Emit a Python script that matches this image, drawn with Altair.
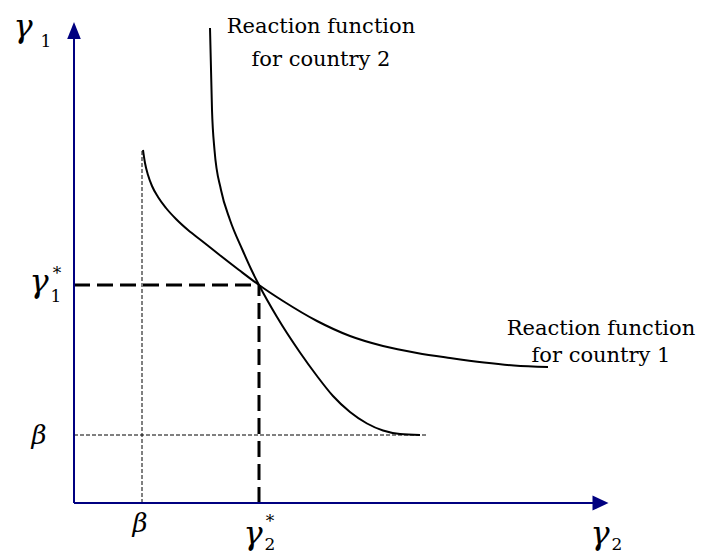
import altair as alt
import pandas as pd

# Canvas and origin of the diagram
W, H = 702, 554
X0, Y0 = 74, 503

# Axis extents (arbitrary units)
G2_MAX = 534
G1_MAX = 481
ARROW_G1 = 472.5
ARROW_G2 = 526.5

# Floor level and Nash equilibrium
BETA = 68
EQ_G2, EQ_G1 = 185, 218

# Reaction function for country 1
rf1_g2 = [69, 71, 74, 78, 84, 92, 102, 114, 128, 145, 165, 185, 209, 243, 276, 309, 343, 376, 410, 440, 474]
rf1_g1 = [353, 340, 328, 317, 306, 295, 284, 273, 262, 248.5, 233, 218, 202, 182, 167, 157, 150, 145, 140.5, 137.5, 136]

# Reaction function for country 2
rf2_g2 = [136, 138, 140.5, 147, 156, 168.5, 177.5, 185, 203, 226, 243, 259, 276, 293, 309, 326, 346]
rf2_g1 = [475, 393, 353, 313, 283, 253, 233, 218, 186, 150.5, 127, 107, 91, 79.5, 72.5, 69, 68]

xs = alt.Scale(domain=[-X0, W - X0], nice=False, zero=False)
ys = alt.Scale(domain=[Y0 - H, Y0], nice=False, zero=False)
NAVY = "#000080"
FONT = "DejaVu Serif"


def enc_xy(chart, xf="x", yf="y"):
    return chart.encode(
        x=alt.X(f"{xf}:Q", scale=xs, axis=None),
        y=alt.Y(f"{yf}:Q", scale=ys, axis=None),
    )


def seg(df, **style):
    return enc_xy(alt.Chart(df).mark_rule(**style)).encode(x2="x2:Q", y2="y2:Q")


axes_df = pd.DataFrame({
    "x": [0, 0], "y": [0, 0], "x2": [0, G2_MAX - 10], "y2": [G1_MAX - 10, 0],
})
axes = seg(axes_df, color=NAVY, strokeWidth=2)

arrow_up = enc_xy(alt.Chart(pd.DataFrame({"x": [0], "y": [ARROW_G1]})).mark_point(
    shape="M0,-1L0.8,1L-0.8,1Z", size=289, filled=True, color=NAVY, opacity=1
))
arrow_right = enc_xy(alt.Chart(pd.DataFrame({"x": [ARROW_G2], "y": [0]})).mark_point(
    shape="M1,0L-1,-0.95L-1,0.95Z", size=256, filled=True, color=NAVY, opacity=1
))

# Thin dotted guides at the floor beta
beta_df = pd.DataFrame({
    "x": [BETA, 0], "y": [0, BETA], "x2": [BETA, rf2_g2[-1] + 7], "y2": [rf1_g1[0], BETA],
})
beta_lines = seg(beta_df, color="black", strokeWidth=1, strokeDash=[4, 2])

# Thick dashed guides to the equilibrium
eq_df = pd.DataFrame({
    "x": [0, EQ_G2], "y": [EQ_G1, 0], "x2": [EQ_G2, EQ_G2], "y2": [EQ_G1, EQ_G1],
})
eq_lines = seg(eq_df, color="black", strokeWidth=3, strokeDash=[16, 7])

curves_df = pd.concat([
    pd.DataFrame({"g2": rf1_g2, "g1": rf1_g1, "curve": "rf1", "i": range(len(rf1_g2))}),
    pd.DataFrame({"g2": rf2_g2, "g1": rf2_g1, "curve": "rf2", "i": range(len(rf2_g2))}),
])
curves = enc_xy(
    alt.Chart(curves_df).mark_line(color="black", strokeWidth=2, interpolate="monotone"),
    "g2", "g1",
).encode(detail="curve:N", order="i:Q")

# Curve captions
caption_df = pd.DataFrame({
    "x": [247, 247, 527, 527],
    "y": [470, 437, 168, 141],
    "text": ["Reaction function", "for country 2", "Reaction function", "for country 1"],
})
captions = enc_xy(alt.Chart(caption_df).mark_text(
    font=FONT, fontSize=21, align="center", baseline="alphabetic", color="black"
)).encode(text="text:N")

# Greek symbols (italic)
greek_df = pd.DataFrame({
    "x": [-51, -35, EQ_G2 - 6, 526, BETA - 2, -35],
    "y": [466, 211, -41, -41, -29, 59],
    "text": ["γ", "γ", "γ", "γ", "β", "β"],
    "size": [32, 32, 32, 32, 26, 26],
})
greek = enc_xy(alt.Chart(greek_df).mark_text(
    font=FONT, fontStyle="italic", align="center", baseline="alphabetic", color="black"
)).encode(text="text:N", size=alt.Size("size:Q", scale=None, legend=None))

# Subscripts and stars
sub_df = pd.DataFrame({
    "x": [-28, -18, EQ_G2 + 11, 543, -17, EQ_G2 + 11],
    "y": [456, 201, -47, -47, 224, -24],
    "text": ["1", "1", "2", "2", "*", "*"],
})
subs = enc_xy(alt.Chart(sub_df).mark_text(
    font=FONT, fontSize=17, align="center", baseline="alphabetic", color="black"
)).encode(text="text:N")

chart = alt.layer(
    beta_lines, eq_lines, curves, axes, arrow_up, arrow_right,
    captions, greek, subs,
).properties(
    width=W, height=H, padding=0, autosize="none", background="white"
).configure_view(stroke=None)

chart.save("out.html", embed_options={"renderer": "svg", "actions": False})
